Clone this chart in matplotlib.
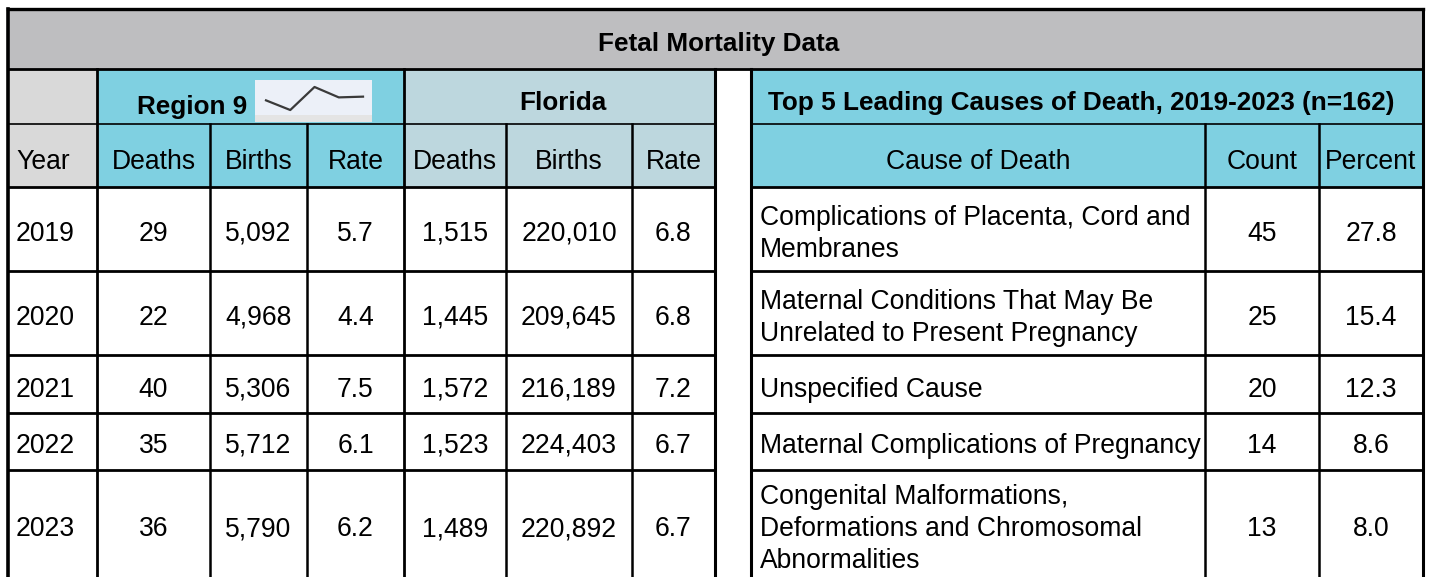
import matplotlib.pyplot as plt
from matplotlib.patches import Rectangle

plt.rcParams['font.family'] = ['Liberation Sans', 'DejaVu Sans']

# data
years = [2019, 2020, 2021, 2022, 2023]
region_deaths = [29, 22, 40, 35, 36]
region_births = [5092, 4968, 5306, 5712, 5790]
region_rate = [5.7, 4.4, 7.5, 6.1, 6.2]
fl_deaths = [1515, 1445, 1572, 1523, 1489]
fl_births = [220010, 209645, 216189, 224403, 220892]
fl_rate = [6.8, 6.8, 7.2, 6.7, 6.7]

causes = ["Complications of Placenta, Cord and\nMembranes",
          "Maternal Conditions That May Be\nUnrelated to Present Pregnancy",
          "Unspecified Cause",
          "Maternal Complications of Pregnancy",
          "Congenital Malformations,\nDeformations and Chromosomal\nAbnormalities"]
cause_counts = [45, 25, 20, 14, 13]
cause_pct = [27.8, 15.4, 12.3, 8.6, 8.0]

left_headers = ["Deaths", "Births", "Rate", "Deaths", "Births", "Rate"]
right_headers = ["Cause of Death", "Count", "Percent"]

# layout in pixels
W, H = 1432, 577
xl = [8, 97, 210, 307, 404, 506, 632, 715]
xr = [751, 1205, 1319, 1423]
yr = [9, 69, 124, 187, 271, 355, 413, 470, 577]
text_y = [234, 318, 390, 446, 529]

CYAN = '#7fd0e1'
FLBLUE = '#bdd7de'
GRAY = '#bebec0'
LGRAY = '#d9d9d9'
FS = 19.1
FSB = 18.8

fig = plt.figure(figsize=(W / 100, H / 100), dpi=100)
ax = fig.add_axes([0, 0, 1, 1])
ax.set_xlim(0, W)
ax.set_ylim(H, 0)
ax.axis('off')


def cell(x0, x1, y0, y1, color, z=0):
    ax.add_patch(Rectangle((x0, y0), x1 - x0, y1 - y0, facecolor=color, edgecolor='none', zorder=z))


# backgrounds
cell(xl[0], xr[-1], yr[0], yr[1], GRAY)
cell(xl[0], xl[1], yr[1], yr[3], LGRAY)
cell(xl[1], xl[4], yr[1], yr[3], CYAN)
cell(xl[4], xl[7], yr[1], yr[3], FLBLUE)
cell(xr[0], xr[-1], yr[1], yr[3], CYAN)

# lines
k = dict(color='black', zorder=3, solid_capstyle='projecting')
ax.plot([xl[0], xr[-1]], [yr[0], yr[0]], lw=2.4, **k)
ax.plot([xl[0], xr[-1]], [yr[1], yr[1]], lw=2.0, **k)
ax.plot([xl[0], xl[0]], [yr[0], H], lw=2.6, **k)
ax.plot([xr[-1], xr[-1]], [yr[0], H], lw=2.2, **k)
ax.plot([xl[-1], xl[-1]], [yr[1], H], lw=2.2, **k)
ax.plot([xr[0], xr[0]], [yr[1], H], lw=2.2, **k)
# header split
ax.plot([xl[0], xl[-1]], [yr[2], yr[2]], lw=1.2, **k)
ax.plot([xr[0], xr[-1]], [yr[2], yr[2]], lw=1.2, **k)
ax.plot([xl[1], xl[1]], [yr[1], H], lw=2.0, **k)
ax.plot([xl[4], xl[4]], [yr[1], H], lw=2.0, **k)
for x in xl[2:4] + xl[5:7]:
    ax.plot([x, x], [yr[2], H], lw=1.8, **k)
for x in xr[1:3]:
    ax.plot([x, x], [yr[2], H], lw=1.8, **k)
for y in yr[3:8]:
    ax.plot([xl[0], xl[-1]], [y, y], lw=2.0, **k)
    ax.plot([xr[0], xr[-1]], [y, y], lw=2.0, **k)

# titles
ax.text(719, 44, "Fetal Mortality Data", fontsize=FSB, fontweight='bold', ha='center', va='center')
ax.text(192, 107, "Region 9", fontsize=FSB, fontweight='bold', ha='center', va='center')
ax.text(563, 103, "Florida", fontsize=FSB, fontweight='bold', ha='center', va='center')
ax.text(1081, 103, "Top 5 Leading Causes of Death, 2019-2023 (n=162)", fontsize=FSB,
        fontweight='bold', ha='center', va='center')

# header row 2
hy = 162
ax.text(16, hy, "Year", fontsize=FS, ha='left', va='center')
for i, h in enumerate(left_headers):
    ax.text((xl[i + 1] + xl[i + 2]) / 2, hy, h, fontsize=FS, ha='center', va='center')
ax.text((xr[0] + xr[1]) / 2, hy, right_headers[0], fontsize=FS, ha='center', va='center')
ax.text((xr[1] + xr[2]) / 2, hy, right_headers[1], fontsize=FS, ha='center', va='center')
ax.text((xr[2] + xr[3]) / 2, hy, right_headers[2], fontsize=FS, ha='center', va='center')

# data rows
for r in range(len(years)):
    y = text_y[r]
    ax.text(16, y, str(years[r]), fontsize=FS, ha='left', va='center')
    vals = [f"{region_deaths[r]}", f"{region_births[r]:,}", f"{region_rate[r]:.1f}",
            f"{fl_deaths[r]:,}", f"{fl_births[r]:,}", f"{fl_rate[r]:.1f}"]
    for i, v in enumerate(vals):
        ax.text((xl[i + 1] + xl[i + 2]) / 2, y, v, fontsize=FS, ha='center', va='center')
    ax.text(760, y, causes[r], fontsize=FS, ha='left', va='center', linespacing=1.3)
    ax.text((xr[1] + xr[2]) / 2, y, str(cause_counts[r]), fontsize=FS, ha='center', va='center')
    ax.text((xr[2] + xr[3]) / 2, y, f"{cause_pct[r]:.1f}", fontsize=FS, ha='center', va='center')

# sparkline of region 9 rate
bx0, bx1, by0, by1, by2 = 255, 372, 80, 115, 122
cell(bx0, bx1, by1, by2, '#e4e4e4', z=1)
sp = fig.add_axes([bx0 / W, 1 - by1 / H, (bx1 - bx0) / W, (by1 - by0) / H])
sp.set_facecolor('#ecf0f8')
sp.plot(range(len(region_rate)), region_rate, color='#3a3a3a', lw=1.6)
sp.set_xlim(-0.454, 4.37)
sp.set_ylim(3.73, 8.44)
sp.set_xticks([])
sp.set_yticks([])
for s in sp.spines.values():
    s.set_visible(False)

fig.savefig('out.png', dpi=100)
